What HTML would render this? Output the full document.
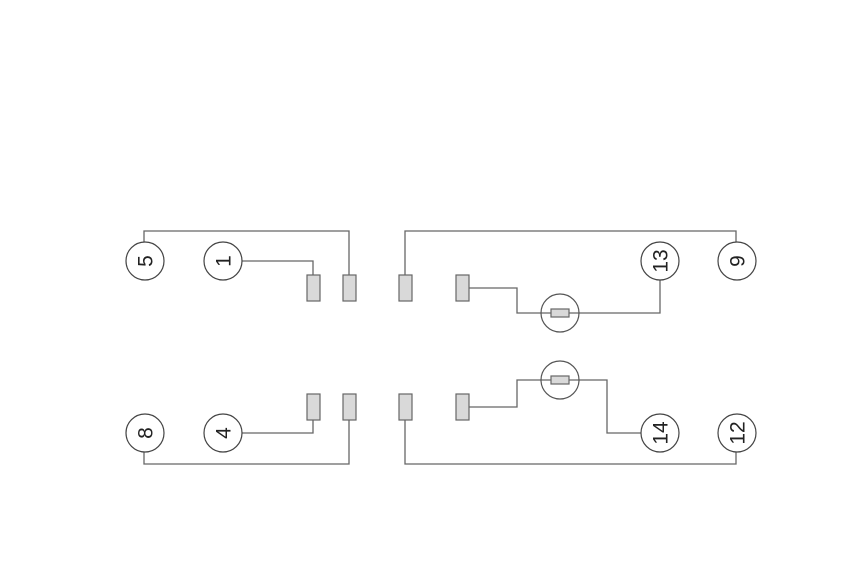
<!DOCTYPE html>
<html><head><style>html,body{margin:0;padding:0;background:#fff;}</style></head>
<body>
<svg width="858" height="562" viewBox="0 0 858 562" xmlns="http://www.w3.org/2000/svg">
<g fill="none" stroke="#666" stroke-width="1.3">
<polyline points="144,242 144,231 349,231 349,275"/>
<polyline points="242,261 313,261 313,275"/>
<polyline points="405,275 405,231 736,231 736,242"/>
<polyline points="469,288 517,288 517,313 551,313"/>
<polyline points="569,313 660,313 660,280"/>
<polyline points="144,452 144,464 349,464 349,420"/>
<polyline points="242,433 313,433 313,420"/>
<polyline points="405,420 405,464 736,464 736,452"/>
<polyline points="469,407 517,407 517,380 551,380"/>
<polyline points="569,380 607,380 607,433 641,433"/>
</g>
<g fill="#d9d9d9" stroke="#666" stroke-width="1.2">
<rect x="307" y="275" width="13" height="26"/><rect x="343" y="275" width="13" height="26"/>
<rect x="399" y="275" width="13" height="26"/><rect x="456" y="275" width="13" height="26"/>
<rect x="307" y="394" width="13" height="26"/><rect x="343" y="394" width="13" height="26"/>
<rect x="399" y="394" width="13" height="26"/><rect x="456" y="394" width="13" height="26"/>
<rect x="551" y="309" width="18" height="8"/><rect x="551" y="376" width="18" height="8"/>
</g>
<g fill="none" stroke="#555" stroke-width="1.2">
<circle cx="560" cy="313" r="19"/><circle cx="560" cy="380" r="19"/>
</g>
<g fill="#fff" stroke="#444" stroke-width="1.2">
<circle cx="145" cy="261" r="19"/><circle cx="223" cy="261" r="19"/>
<circle cx="660" cy="261" r="19"/><circle cx="737" cy="261" r="19"/>
<circle cx="145" cy="433" r="19"/><circle cx="223" cy="433" r="19"/>
<circle cx="660" cy="433" r="19"/><circle cx="737" cy="433" r="19"/>
</g>
<g font-family="Liberation Sans, sans-serif" font-size="21" fill="#222" text-anchor="middle">
<text transform="translate(145,261) rotate(-90)" y="7.5">5</text>
<text transform="translate(223,261) rotate(-90)" y="7.5">1</text>
<text transform="translate(660,261) rotate(-90)" y="7.5">13</text>
<text transform="translate(737,261) rotate(-90)" y="7.5">9</text>
<text transform="translate(145,433) rotate(-90)" y="7.5">8</text>
<text transform="translate(223,433) rotate(-90)" y="7.5">4</text>
<text transform="translate(660,433) rotate(-90)" y="7.5">14</text>
<text transform="translate(737,433) rotate(-90)" y="7.5">12</text>
</g>
</svg>
</body></html>
